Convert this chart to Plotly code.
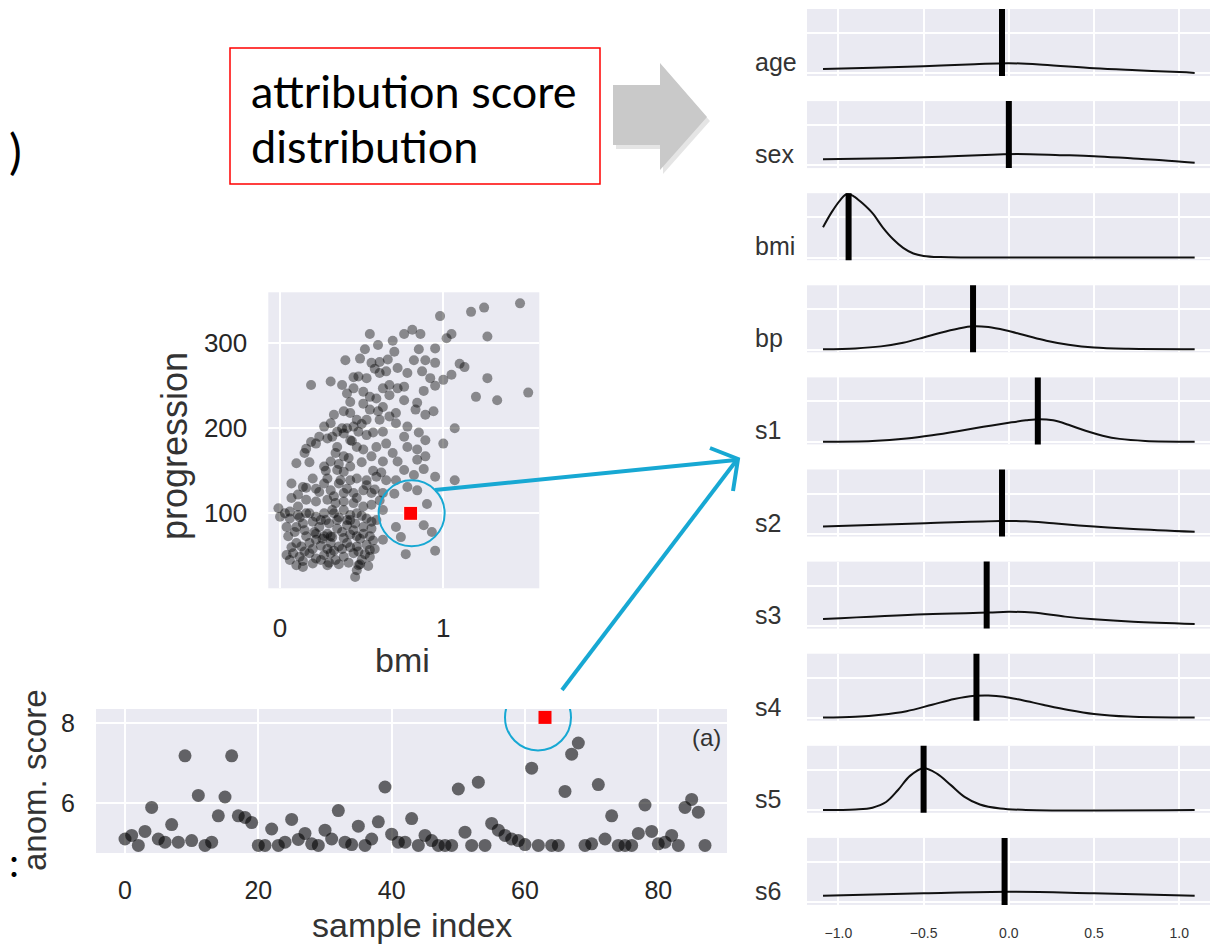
import plotly.graph_objects as go

W, H = 1228, 946
OFF = 8  # page body margin in the browser

# ---------------- scatter: bmi vs progression ----------------
BMI = [1.47,1.25,1.17,0.98,1.27,1.05,1.02,1.52,1.33,1.20,1.27,1.13,1.10,1.05,1.00,1.07,1.00,1.07,0.95,0.95,0.77,0.93,0.88,0.90,0.71,0.74,0.70,0.63,
       0.55,0.60,0.69,0.76,0.81,0.86,0.95,0.85,0.52,0.49,0.40,0.56,0.61,0.66,0.72,0.82,0.89,0.95,0.87,0.92,0.95,0.48,0.53,0.65,0.67,0.72,0.63,0.76,0.88,0.84,0.83,0.89,0.94,
       0.31,0.19,0.38,0.41,0.45,0.51,0.59,0.43,0.39,0.51,0.55,0.33,0.43,0.45,0.48,0.53,0.61,0.67,0.71,0.78,0.85,0.89,0.63,0.53,0.65,0.76,0.78,0.84,0.89,0.84,
       0.27,0.31,0.24,0.19,0.16,0.10,0.15,0.18,0.22,0.29,0.35,0.34,0.39,0.47,0.43,0.51,0.56,0.63,0.69,0.72,0.76,0.82,0.88,
       0.27,0.31,0.35,0.39,0.43,0.47,0.53,0.59,0.65,0.71,0.78,0.84,
       0.07,0.11,0.20,0.22,0.27,0.31,0.36,0.41,0.45,0.51,0.56,0.63,
       0.07,0.16,0.22,0.29,0.34,0.39,0.45,0.51,0.56,0.63,
       -0.01,0.03,0.00,0.06,0.11,0.16,0.22,0.27,0.33,0.39,0.43,0.47,0.53,0.59,
       0.04,0.10,0.14,0.20,0.24,0.29,0.27,0.35,0.41,0.45,0.51,0.55,
       0.05,0.10,0.13,0.18,0.22,0.31,0.36,0.41,0.47,0.53,
       0.04,0.08,0.12,0.18,0.22,0.27,0.31,0.34,0.39,0.45,0.50,0.55,
       0.10,0.14,0.20,0.29,0.47,0.46,0.48,0.55,0.22,0.16,0.35,0.32,0.43,0.61,0.67,0.76,0.41,0.35,0.39,0.47,0.55,0.63,0.71,0.59,0.29,0.37,0.14,0.06,0.11,0.28,0.43,0.51,0.56,0.47,0.39,0.31,
       0.12,0.18,0.25,0.30,0.36,0.41,0.46,0.50,0.56,0.09,0.15,0.21,0.26,0.32,0.38,0.43,0.49,0.57,
       0.07,0.15,0.20,0.25,0.29,0.33,0.38,0.43,0.48,0.52,0.58,0.06,0.14,0.25,0.30,0.36,0.42,0.49,0.54,
       0.16,0.24,0.33,0.39,0.47,0.53,0.58,0.61,0.28,0.36,0.42,0.50,0.57,0.62,
       0.32,0.38,0.44,0.50,0.57,0.60,0.45,0.58,0.70,0.78]
PROG = [347,342,337,332,308,311,306,242,233,237,259,272,276,263,257,200,182,139,143,56,52,78,86,111,84,72,123,69,
        311,298,303,311,316,311,294,293,293,282,280,277,278,281,271,280,280,277,267,259,250,261,259,267,251,247,247,249,244,230,222,216,220,
        255,251,251,241,247,243,235,231,220,229,222,216,218,202,196,210,210,214,206,202,195,186,196,192,182,190,178,175,167,163,
        202,206,190,184,176,159,171,160,182,188,178,171,167,178,186,175,167,161,171,161,151,145,152,
        155,161,151,149,155,141,139,143,139,139,131,127,
        135,122,141,129,135,127,135,129,124,127,124,124,
        118,116,114,116,112,114,112,108,110,104,
        106,100,96,94,98,100,96,100,100,104,98,100,94,92,
        84,84,88,90,84,76,73,82,86,80,76,73,
        73,65,61,65,69,65,61,65,61,63,
        51,53,49,53,47,51,53,45,49,53,45,49,
        39,37,41,39,33,25,39,57,76,73,92,104,139,265,239,233,200,196,194,210,237,225,218,178,141,139,131,102,108,92,92,84,82,73,71,73,
        95,100,92,88,95,92,88,97,90,78,80,78,70,72,78,75,70,68,
        60,55,58,62,58,56,58,60,55,52,58,45,44,45,42,40,42,40,38,
        130,125,120,124,118,133,128,115,150,158,165,160,150,148,
        190,200,185,205,195,220,260,270,290,265]
ANOM_BMI = 0.80
ANOM_PROG = 100

# ---------------- anomaly scores per sample ----------------
SCORES = [5.11,5.20,4.95,5.30,5.90,5.11,5.03,5.47,5.03,7.19,
          5.07,6.20,4.95,5.03,5.69,6.16,7.19,5.69,5.65,5.52,
          4.95,4.95,5.36,4.95,5.03,5.60,5.10,5.25,4.99,4.95,
          5.33,5.11,5.82,5.03,4.97,5.43,4.95,5.11,5.54,6.41,
          5.23,5.03,5.03,5.62,4.95,5.20,5.07,4.95,4.95,4.95,
          6.36,5.28,4.95,6.53,4.95,5.50,5.33,5.20,5.11,5.07,
          4.97,6.88,4.95,8.15,4.95,4.95,6.30,7.23,7.51,4.95,
          4.99,6.47,5.11,5.69,4.95,4.95,4.95,5.25,5.96,5.30,
          4.99,5.03,5.20,4.95,5.90,6.10,5.78,4.95]
ANOM_IDX = 63

# ---------------- attribution score distributions ----------------
FEATURES = ["age", "sex", "bmi", "bp", "s1", "s2", "s3", "s4", "s5", "s6"]
ATTRIB = [-0.04, 0.0, -0.94, -0.21, 0.17, -0.04, -0.13, -0.19, -0.50, -0.025]
KDE_X = [
    [-1.09,-0.8,-0.5,-0.2,0.0,0.2,0.5,0.75,1.0,1.09],
    [-1.09,-0.7,-0.4,-0.1,0.05,0.3,0.5,0.73,0.9,1.09],
    [-1.09,-1.04,-0.99,-0.95,-0.91,-0.86,-0.8,-0.74,-0.68,-0.62,-0.56,-0.5,-0.4,-0.25,0.0,0.5,1.09],
    [-1.09,-0.9,-0.75,-0.62,-0.5,-0.4,-0.3,-0.21,-0.12,-0.02,0.1,0.22,0.35,0.5,0.7,1.09],
    [-1.09,-0.8,-0.6,-0.45,-0.3,-0.15,0.0,0.1,0.18,0.26,0.35,0.45,0.55,0.65,0.8,1.09],
    [-1.09,-0.49,-0.05,0.1,0.26,0.5,0.73,1.09],
    [-1.09,-0.49,-0.12,0.0,0.14,0.33,0.5,0.73,1.09],
    [-1.09,-0.9,-0.75,-0.6,-0.45,-0.32,-0.2,-0.12,-0.03,0.08,0.2,0.35,0.5,0.7,1.09],
    [-1.09,-0.9,-0.8,-0.72,-0.65,-0.58,-0.5,-0.42,-0.34,-0.26,-0.17,-0.05,0.1,1.09],
    [-1.09,-0.5,0.0,0.5,1.09],
]
KDE_Y = [
    [0.107,0.14,0.175,0.225,0.25,0.215,0.125,0.075,0.03,0.01],
    [0.15,0.18,0.215,0.265,0.28,0.255,0.23,0.17,0.13,0.065],
    [0.75,1.12,1.42,1.575,1.52,1.35,1.1,0.75,0.46,0.24,0.1,0.04,0.01,0.0,0.0,0.0,0.0],
    [0.01,0.03,0.08,0.17,0.3,0.42,0.52,0.58,0.56,0.48,0.35,0.22,0.12,0.05,0.02,0.01],
    [0.0,0.02,0.08,0.16,0.26,0.37,0.47,0.53,0.56,0.53,0.42,0.27,0.15,0.07,0.02,0.0],
    [0.18,0.26,0.32,0.31,0.26,0.18,0.12,0.05],
    [0.17,0.29,0.33,0.35,0.33,0.23,0.165,0.105,0.05],
    [0.01,0.03,0.08,0.17,0.33,0.47,0.55,0.56,0.53,0.44,0.33,0.2,0.1,0.035,0.01],
    [0.0,0.015,0.06,0.2,0.5,0.85,1.04,0.9,0.62,0.33,0.14,0.04,0.005,0.0],
    [0.16,0.22,0.26,0.22,0.16],
]
KDE_TICKS = [-1.0, -0.5, 0.0, 0.5, 1.0]
KDE_TICKTEXT = ["\u22121.0", "\u22120.5", "0.0", "0.5", "1.0"]

# ---------------- helpers (page pixel -> paper) ----------------
def px(x):
    return (x - OFF) / W

def py(y):
    return 1 - (y - OFF) / H

BG = "#EAEAF2"
TXT = "#262626"
FONT = "Liberation Sans, Arial, sans-serif"
CAL = "Lato, Carlito, sans-serif"
BLUE = "#17A8D3"

fig = go.Figure()

fig.add_trace(go.Scatter(x=BMI, y=PROG, mode="markers", xaxis="x", yaxis="y",
                         marker=dict(size=10, color="rgba(0,0,0,0.42)", line=dict(width=0)),
                         showlegend=False, hoverinfo="skip"))
fig.add_trace(go.Scatter(x=[ANOM_BMI], y=[ANOM_PROG], mode="markers", xaxis="x", yaxis="y",
                         marker=dict(size=14, symbol="square", color="#FF0000", line=dict(width=1, color="white")),
                         showlegend=False, hoverinfo="skip"))

idx = list(range(len(SCORES)))
nx = [i for i in idx if i != ANOM_IDX]
ny = [SCORES[i] for i in nx]
fig.add_trace(go.Scatter(x=nx, y=ny, mode="markers", xaxis="x2", yaxis="y2",
                         marker=dict(size=13, color="rgba(0,0,0,0.58)", line=dict(width=0)),
                         showlegend=False, hoverinfo="skip"))
fig.add_trace(go.Scatter(x=[ANOM_IDX], y=[SCORES[ANOM_IDX]], mode="markers", xaxis="x2", yaxis="y2",
                         marker=dict(size=13, symbol="square", color="#FF0000", line=dict(width=0)),
                         showlegend=False, hoverinfo="skip"))

layout = dict(
    width=W, height=H,
    margin=dict(l=0, r=0, t=0, b=0),
    paper_bgcolor="white", plot_bgcolor=BG,
    showlegend=False,
    font=dict(family=FONT, color=TXT),
    xaxis=dict(domain=[px(268.3), px(539.3)], range=[-0.072, 1.588], anchor="y",
               tickvals=[0, 1], showgrid=True, gridcolor="white", gridwidth=2,
               zeroline=False, showline=False, ticks="", tickfont=dict(size=26, color=TXT),
               ticklabelstandoff=22),
    yaxis=dict(domain=[py(588.3), py(292.3)], range=[11.8, 360], anchor="x",
               tickvals=[100, 200, 300], showgrid=True, gridcolor="white", gridwidth=2,
               zeroline=False, showline=False, ticks="", tickfont=dict(size=26, color=TXT),
               ticklabelstandoff=20),
    xaxis2=dict(domain=[px(96), px(727)], range=[-4.35, 90.3], anchor="y2",
                tickvals=[0, 20, 40, 60, 80], showgrid=True, gridcolor="white", gridwidth=2,
                zeroline=False, showline=False, ticks="", tickfont=dict(size=25, color=TXT),
                ticklabelstandoff=20),
    yaxis2=dict(domain=[py(853), py(709)], range=[4.76, 8.36], anchor="x2",
                tickvals=[6, 8], showgrid=True, gridcolor="white", gridwidth=2,
                zeroline=False, showline=False, ticks="", tickfont=dict(size=25, color=TXT),
                ticklabelstandoff=20),
)

annotations = []
shapes = []

for i, feat in enumerate(FEATURES):
    top = 9 + 92.1 * i
    bot = top + 67
    xa = "x%d" % (3 + i)
    ya = "y%d" % (3 + i)
    last = (i == len(FEATURES) - 1)
    layout["xaxis%d" % (3 + i)] = dict(
        domain=[px(807), px(1210)], range=[-1.184, 1.18], anchor=ya,
        tickvals=KDE_TICKS, ticktext=KDE_TICKTEXT, showticklabels=last,
        showgrid=True, gridcolor="white", gridwidth=1.6, zeroline=False, showline=False,
        ticks="", tickfont=dict(size=14, color="#333333"), ticklabelstandoff=18)
    layout["yaxis%d" % (3 + i)] = dict(
        domain=[py(bot), py(top)], range=[-0.067, 1.596], anchor=xa,
        tickvals=[0, 1], showticklabels=False,
        showgrid=True, gridcolor="white", gridwidth=1.6, zeroline=False, showline=False, ticks="")
    fig.add_trace(go.Scatter(x=KDE_X[i], y=KDE_Y[i], mode="lines", xaxis=xa, yaxis=ya,
                             line=dict(color="#111111", width=2, shape="spline", smoothing=1.0),
                             showlegend=False, hoverinfo="skip"))
    fig.add_trace(go.Scatter(x=[ATTRIB[i], ATTRIB[i]], y=[-0.2, 1.8], mode="lines", xaxis=xa, yaxis=ya,
                             line=dict(color="black", width=6), showlegend=False, hoverinfo="skip"))
    annotations.append(dict(text=feat, x=px(753), y=py(bot - 14), xref="paper", yref="paper",
                            xanchor="left", yanchor="middle", showarrow=False,
                            font=dict(size=25, color="#333333", family=FONT)))

def ann(text, x, y, size, family=FONT, color="#333333", angle=0, xanchor="center"):
    return dict(text=text, x=px(x), y=py(y), xref="paper", yref="paper", textangle=angle,
                xanchor=xanchor, yanchor="middle", showarrow=False,
                font=dict(size=size, color=color, family=family))

annotations += [
    ann("progression", 174, 446, 36, angle=-90),
    ann("bmi", 403, 660, 34),
    ann("anom. score", 34, 780, 33, angle=-90),
    ann("sample index", 412, 925, 34),
    ann("(a)", 706, 737, 24),
    ann("attribution score", 249, 91, 45, family=CAL, color="black", xanchor="left"),
    ann("distribution", 249, 146, 45, family=CAL, color="black", xanchor="left"),
    ann(")", 15, 150, 48, family=CAL, color="black"),
    ann(":", 14, 862, 40, family=CAL, color="black"),
]

def path(points):
    return "M " + " L ".join("%f,%f" % (px(a), py(b)) for a, b in points) + " Z"

arrow_pts = [(613, 85), (660, 85), (660, 63), (707, 117), (660, 170), (660, 145), (613, 145)]
shadow_pts = [(a + 3, b + 4) for a, b in arrow_pts]
shapes += [
    dict(type="path", xref="paper", yref="paper", path=path(shadow_pts),
         fillcolor="rgba(0,0,0,0.10)", line=dict(width=0), layer="above"),
    dict(type="path", xref="paper", yref="paper", path=path(arrow_pts),
         fillcolor="#C9C9C9", line=dict(width=0), layer="above"),
    dict(type="rect", xref="paper", yref="paper", x0=px(230), x1=px(600), y0=py(184), y1=py(48),
         line=dict(color="#FF0000", width=1.5), fillcolor="rgba(0,0,0,0)", layer="above"),
    dict(type="circle", xref="x", yref="y", xsizemode="pixel", ysizemode="pixel",
         xanchor=ANOM_BMI, yanchor=ANOM_PROG, x0=-32, x1=34, y0=-33, y1=33,
         line=dict(color=BLUE, width=2), layer="above"),
    dict(type="circle", xref="x2", yref="y2", xsizemode="pixel", ysizemode="pixel",
         xanchor=ANOM_IDX, yanchor=SCORES[ANOM_IDX], x0=-40, x1=26, y0=-33, y1=33,
         line=dict(color=BLUE, width=2), layer="above"),
    dict(type="line", xref="paper", yref="paper", x0=px(435), y0=py(490), x1=px(736), y1=py(460),
         line=dict(color=BLUE, width=4), layer="above"),
    dict(type="line", xref="paper", yref="paper", x0=px(562), y0=py(690), x1=px(736), y1=py(461),
         line=dict(color=BLUE, width=4), layer="above"),
    dict(type="path", xref="paper", yref="paper",
         path="M %f,%f L %f,%f L %f,%f" % (px(710), py(448), px(738), py(459), px(733), py(491)),
         line=dict(color=BLUE, width=4), layer="above"),
]

layout["annotations"] = annotations
layout["shapes"] = shapes
fig.update_layout(**layout)

fig.write_html("out.html")
